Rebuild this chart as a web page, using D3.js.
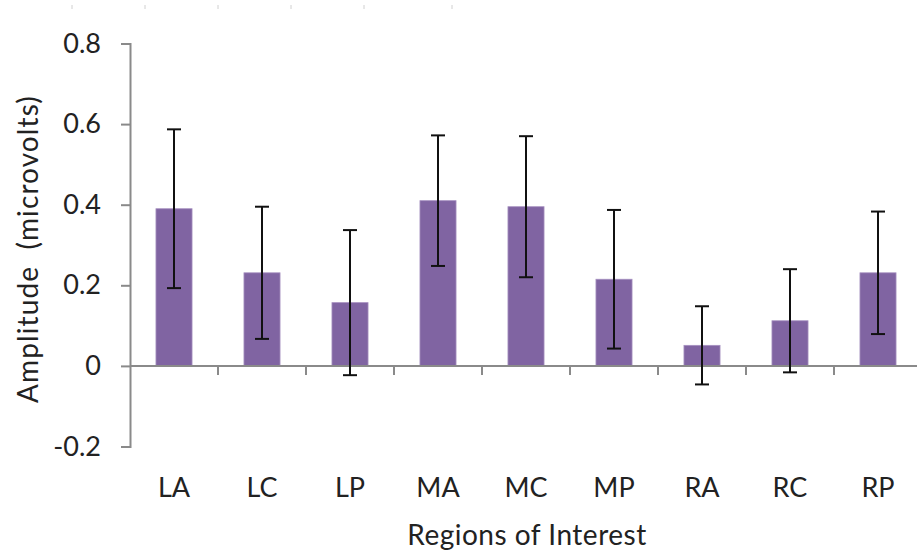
<!DOCTYPE html>
<html>
<head>
<meta charset="utf-8">
<script src="https://cdn.jsdelivr.net/npm/d3@7"></script>
<style>
  html, body { margin: 0; padding: 0; background: #fff; }
  svg { display: block; }
  text { font-family: Lato, "Open Sans", sans-serif; fill: #222; }
</style>
</head>
<body>
<svg id="chart" width="917" height="551"></svg>
<script>
// Mean amplitude per region of interest, with symmetric error bars
const regions = ["LA", "LC", "LP", "MA", "MC", "MP", "RA", "RC", "RP"];
const amplitude = [0.39, 0.231, 0.157, 0.41, 0.395, 0.215, 0.051, 0.112, 0.231];
const errorBar = [0.197, 0.164, 0.18, 0.162, 0.175, 0.172, 0.097, 0.128, 0.152];
const yTicks = [-0.2, 0, 0.2, 0.4, 0.6, 0.8];

const svg = d3.select("#chart");
const plotLeft = 130, plotTop = 43.5, plotBottom = 446.5;
const bandW = 88;

const y = d3.scaleLinear().domain([-0.2, 0.8]).range([plotBottom, plotTop]);
const x = d3.scaleBand().domain(regions).range([plotLeft, plotLeft + bandW * regions.length])
  .paddingInner(0.59).paddingOuter(0.295);

const axisColor = "#8a8a8a";

// faint marks along the top edge
svg.append("g").selectAll("line").data([72, 145, 218, 291, 364, 452]).join("line")
  .attr("x1", d => d).attr("x2", d => d).attr("y1", 5).attr("y2", 9)
  .attr("stroke", "#d0d0d0").attr("stroke-width", 1);

// bars
svg.append("g").selectAll("rect").data(regions).join("rect")
  .attr("x", d => x(d))
  .attr("width", x.bandwidth())
  .attr("y", (d, i) => y(Math.max(0, amplitude[i])))
  .attr("height", (d, i) => Math.abs(y(amplitude[i]) - y(0)))
  .attr("fill", "#8064a2")
  .attr("stroke", "#a690c0")
  .attr("stroke-width", 0.8);

// y axis (plain hyphen for negatives)
const yAxis = svg.append("g").attr("transform", `translate(${plotLeft},0)`)
  .call(d3.axisLeft(y).tickValues(yTicks).tickSize(9).tickPadding(20)
    .tickFormat(d => d === 0 ? "0" : d.toFixed(1)));
yAxis.select(".domain").attr("stroke", axisColor).attr("stroke-width", 2);
yAxis.selectAll(".tick line").attr("stroke", axisColor).attr("stroke-width", 2);
yAxis.selectAll(".tick text").attr("font-size", 27).attr("fill", "#222")
  .style("font-family", "Lato, sans-serif");

// x axis at zero with category separator ticks
const zeroY = y(0);
const xg = svg.append("g");
xg.append("line").attr("x1", plotLeft).attr("x2", 917).attr("y1", zeroY).attr("y2", zeroY)
  .attr("stroke", axisColor).attr("stroke-width", 2);
xg.selectAll("line.sep").data(d3.range(1, regions.length + 1)).join("line")
  .attr("class", "sep")
  .attr("x1", i => plotLeft + i * bandW).attr("x2", i => plotLeft + i * bandW)
  .attr("y1", zeroY).attr("y2", zeroY + 9)
  .attr("stroke", axisColor).attr("stroke-width", 2);

// category labels
svg.append("g").selectAll("text").data(regions).join("text")
  .attr("x", d => x(d) + x.bandwidth() / 2)
  .attr("y", 497)
  .attr("text-anchor", "middle")
  .attr("font-size", 27)
  .text(d => d);

// error bars
const eg = svg.append("g").attr("stroke", "#111").attr("stroke-width", 2);
regions.forEach((r, i) => {
  const cx = x(r) + x.bandwidth() / 2;
  const hi = y(amplitude[i] + errorBar[i]);
  const lo = y(amplitude[i] - errorBar[i]);
  eg.append("line").attr("x1", cx).attr("x2", cx).attr("y1", hi).attr("y2", lo);
  eg.append("line").attr("x1", cx - 7).attr("x2", cx + 7).attr("y1", hi).attr("y2", hi);
  eg.append("line").attr("x1", cx - 7).attr("x2", cx + 7).attr("y1", lo).attr("y2", lo);
});

// axis titles
svg.append("text")
  .attr("x", 527).attr("y", 545)
  .attr("text-anchor", "middle").attr("font-size", 28)
  .attr("letter-spacing", 0.5)
  .text("Regions of Interest");
svg.append("text")
  .attr("transform", "translate(38,249) rotate(-90)")
  .attr("text-anchor", "middle").attr("font-size", 28)
  .attr("letter-spacing", 1.1)
  .style("white-space", "pre")
  .text("Amplitude  (microvolts)");
</script>
</body>
</html>
